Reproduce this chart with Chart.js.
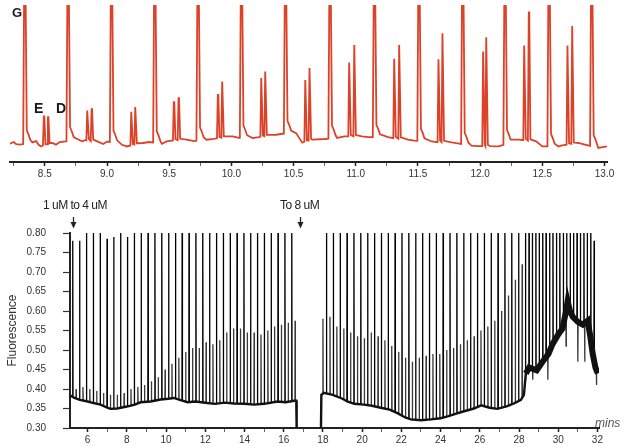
<!DOCTYPE html>
<html><head><meta charset="utf-8">
<script src="https://cdn.jsdelivr.net/npm/chart.js@4.4.0/dist/chart.umd.min.js"></script>
<style>
html,body{margin:0;padding:0;background:#fff;}
#wrap{position:relative;width:624px;height:447px;overflow:hidden;font-family:"Liberation Sans",Arial,sans-serif;}
#topC{position:absolute;left:0;top:0;}
#botC{position:absolute;left:0;top:190px;}
.lbl{position:absolute;white-space:nowrap;color:#1a1a1a;}
.pk{font-weight:bold;}
.ann{font-size:12px;line-height:12px;letter-spacing:-0.5px;color:#222;}
</style></head><body>
<div id="wrap">
<canvas id="topC" width="624" height="190"></canvas>
<canvas id="botC" width="624" height="261"></canvas>
<div class="lbl pk" style="left:12px;top:6px;font-size:13px;line-height:13px;">G</div>
<div class="lbl pk" style="left:34px;top:101px;font-size:14px;line-height:14px;">E</div>
<div class="lbl pk" style="left:56px;top:101px;font-size:14px;line-height:14px;">D</div>
<div class="lbl ann" style="left:43px;top:199px;">1 uM to 4 uM</div>
<div class="lbl ann" style="left:280px;top:199px;">To 8 uM</div>
<div class="lbl" style="left:595px;top:417px;font-size:12px;line-height:12px;font-style:italic;color:#555;">mins</div>
</div>
<script>
// ================= TOP PANEL (red trace, 8.2 – 13.0 min) =================
const topMainPeakTimes = [8.339, 8.687, 9.036, 9.384, 9.732, 10.081, 10.435, 10.793, 11.150, 11.508, 11.860, 12.200, 12.554, 12.897];
const topMainPeakHeights = [130,130,130,130,130,130,130,130,130,130,130,130,130,130]; // off scale
const topPairTimes = [8.494, 8.527, 8.843, 8.878, 9.197, 9.229, 9.539, 9.577, 9.893, 9.928, 10.242, 10.274, 10.596, 10.630, 10.949, 10.990, 11.311, 11.351, 11.667, 11.699, 12.026, 12.051, 12.356, 12.393, 12.704, 12.742];
const topPairHeights = [19.1, 18.6, 23.4, 24.4, 22.5, 25.9, 29.5, 32.4, 34.8, 44.4, 46.9, 51.7, 45.6, 54.3, 58.2, 71.0, 60.9, 71.0, 60.6, 79.5, 66.2, 76.6, 70.5, 94.7, 70.5, 84.8];
const topBaseTimes = [8.22, 8.25, 8.27, 8.30, 8.40, 8.43, 8.45, 8.47, 8.56, 8.59, 8.62, 8.67, 8.76, 8.80, 8.83, 8.94, 8.97, 9.00, 9.08, 9.12, 9.16, 9.29, 9.34, 9.44, 9.48, 9.52, 9.64, 9.70, 9.80, 9.86, 10.01, 10.06, 10.17, 10.22, 10.36, 10.41, 10.52, 10.57, 10.65, 10.75, 10.85, 10.91, 11.05, 11.10, 11.26, 11.30, 11.42, 11.47, 11.61, 11.65, 11.77, 11.82, 11.93, 11.98, 12.08, 12.15, 12.31, 12.45, 12.50, 12.63, 12.66, 12.79, 12.85, 12.95, 13.02];
const topBaseValues = [-0.7, 0.5, -1.0, -1.4, 0.2, 1.2, -1.5, -2.7, -0.2, -1.4, 0.5, 0.9, 2.7, 1.0, 2.0, 0.2, -1.0, 0.8, -0.2, -1.5, -2.7, -0.2, 0.5, -0.8, 0.9, 1.5, 2.2, 1.2, 2.2, 2.8, 4.6, 3.5, 3.4, 4.0, 5.8, 6.5, 7.0, 0.0, 2.2, 2.7, 3.5, 4.6, 4.6, 4.0, 4.1, 3.5, 2.2, 1.5, 0.9, 0.5, 0.2, -0.5, -2.2, -2.5, -2.5, -2.7, 2.2, 1.0, -2.7, -2.7, -2.0, -0.2, -1.5, -3.8, -2.7];
const topTickLabels = ['8.5','9.0','9.5','10.0','10.5','11.0','11.5','12.0','12.5','13.0'];

// ================= BOTTOM PANEL (fluorescence, 5 – 32 min) =================
const yTickLabels = ['0.30','0.35','0.40','0.45','0.50','0.55','0.60','0.65','0.70','0.75','0.80'];
const xTickLabels = ['6','8','10','12','14','16','18','20','22','24','26','28','30','32'];
const arrowTimes = [5.25, 16.84];

// segment 1 (1 uM -> 4 uM)
const seg1BaseTimes = [5.12, 5.3, 5.6, 6.0, 6.3, 6.66, 7.0, 7.17, 7.5, 8.0, 8.4, 8.7, 9.2, 9.72, 10.1, 10.4, 10.7, 11.09, 11.5, 12.1, 12.5, 13.0, 13.46, 14.0, 14.49, 15.0, 15.68, 16.1, 16.53, 16.64, 16.66];
const seg1BaseValues = [0.383, 0.378, 0.372, 0.368, 0.364, 0.36, 0.352, 0.349, 0.35, 0.355, 0.36, 0.366, 0.368, 0.373, 0.375, 0.377, 0.372, 0.366, 0.368, 0.364, 0.362, 0.365, 0.363, 0.362, 0.36, 0.362, 0.368, 0.366, 0.37, 0.37, 0.30];
const seg1TallTimes = [5.24, 5.59, 5.94, 6.29, 6.64, 6.99, 7.33, 7.68, 8.03, 8.38, 8.73, 9.08, 9.43, 9.78, 10.13, 10.48, 10.82, 11.17, 11.52, 11.87, 12.22, 12.57, 12.92, 13.27, 13.62, 13.97, 14.31, 14.66, 15.01, 15.36, 15.71, 16.06, 16.41];
const seg1TallHeights = [0.78, 0.78, 0.9, 0.9, 0.9, 0.785, 0.79, 0.9, 0.79, 0.9, 0.9, 0.9, 0.9, 0.9, 0.9, 0.9, 0.9, 0.9, 0.9, 0.9, 0.9, 0.9, 0.9, 0.9, 0.9, 0.9, 0.9, 0.9, 0.9, 0.9, 0.9, 0.9, 0.9];
const seg1SmallTimes = [5.41, 5.76, 6.11, 6.46, 6.81, 7.16, 7.51, 7.86, 8.21, 8.56, 8.90, 9.25, 9.60, 9.95, 10.30, 10.65, 11.00, 11.35, 11.69, 12.04, 12.39, 12.74, 13.09, 13.44, 13.79, 14.14, 14.49, 14.84, 15.19, 15.53, 15.88, 16.23, 16.58];
const seg1SmallHeights = [0.40, 0.405, 0.40, 0.395, 0.39, 0.385, 0.385, 0.39, 0.40, 0.405, 0.41, 0.42, 0.43, 0.45, 0.465, 0.48, 0.495, 0.505, 0.505, 0.52, 0.515, 0.525, 0.545, 0.555, 0.555, 0.545, 0.545, 0.54, 0.55, 0.56, 0.565, 0.57, 0.575];

// segment 2 (to 8 uM)
const seg2BaseTimes = [17.9, 17.92, 18.05, 18.5, 19.0, 19.24, 19.6, 20.1, 20.5, 20.95, 21.4, 21.8, 22.2, 22.48, 23.0, 23.5, 24.0, 24.36, 24.8, 25.2, 25.7, 26.07, 26.5, 26.9, 27.4, 27.77, 28.1, 28.25, 28.35, 28.52, 28.9, 29.2, 29.5, 29.71, 30.0, 30.22, 30.4, 30.48, 30.6, 30.74, 31.0, 31.25, 31.5, 31.62, 31.76, 31.9, 32.02];
const seg2BaseValues = [0.30, 0.385, 0.39, 0.385, 0.375, 0.368, 0.362, 0.36, 0.357, 0.352, 0.347, 0.338, 0.327, 0.322, 0.32, 0.322, 0.325, 0.33, 0.337, 0.343, 0.35, 0.358, 0.352, 0.349, 0.356, 0.364, 0.372, 0.385, 0.44, 0.455, 0.448, 0.47, 0.49, 0.515, 0.54, 0.555, 0.60, 0.625, 0.60, 0.585, 0.572, 0.565, 0.575, 0.54, 0.49, 0.455, 0.44];
const seg2TallTimes = [18.18, 18.53, 18.88, 19.23, 19.58, 19.93, 20.28, 20.63, 20.98, 21.33, 21.68, 22.03, 22.38, 22.73, 23.08, 23.43, 23.78, 24.13, 24.48, 24.83, 25.18, 25.53, 25.88, 26.23, 26.58, 26.93, 27.28, 27.63, 27.98, 28.33, 28.68, 29.03, 29.38, 29.73, 30.08, 30.43, 30.78, 31.13, 31.48, 31.83];
const seg2TallHeights = [0.9, 0.9, 0.9, 0.9, 0.9, 0.9, 0.9, 0.9, 0.9, 0.9, 0.9, 0.9, 0.9, 0.9, 0.9, 0.9, 0.9, 0.9, 0.9, 0.9, 0.9, 0.9, 0.9, 0.9, 0.9, 0.9, 0.9, 0.9, 0.9, 0.9, 0.9, 0.9, 0.9, 0.9, 0.9, 0.9, 0.9, 0.9, 0.9, 0.78];
const seg2SmallTimes = [18.00, 18.36, 18.71, 19.06, 19.41, 19.76, 20.11, 20.46, 20.81, 21.16, 21.51, 21.86, 22.21, 22.56, 22.91, 23.26, 23.61, 23.96, 24.31, 24.66, 25.01, 25.36, 25.71, 26.06, 26.41, 26.76, 27.11, 27.46, 27.81, 28.16, 28.51, 28.86, 29.21, 29.56, 29.91, 30.26, 30.61, 30.96, 31.31, 31.66];
const seg2SmallHeights = [0.58, 0.585, 0.56, 0.555, 0.545, 0.535, 0.53, 0.545, 0.535, 0.525, 0.51, 0.495, 0.48, 0.47, 0.48, 0.485, 0.49, 0.49, 0.50, 0.505, 0.515, 0.525, 0.535, 0.55, 0.56, 0.575, 0.60, 0.64, 0.68, 0.72, 0.9, 0.9, 0.9, 0.9, 0.9, 0.9, 0.9, 0.9, 0.9, 0.9];
const seg2DipTimes = [28.7, 29.47, 30.4, 31.0, 31.35, 31.95];
const seg2DipValues = [0.424, 0.424, 0.51, 0.47, 0.47, 0.41];

// ================= helpers =================
function baseAt(ts, vs, t) {
  if (t <= ts[0]) return vs[0];
  for (let i = 1; i < ts.length; i++) {
    if (t <= ts[i]) { const f = (t - ts[i-1]) / (ts[i] - ts[i-1]); return vs[i-1] + f * (vs[i] - vs[i-1]); }
  }
  return vs[vs.length - 1];
}
function buildTop() {
  const pts = [], windows = [];
  topMainPeakTimes.forEach((t, i) => {
    const b0 = baseAt(topBaseTimes, topBaseValues, t - 0.013);
    const b1 = baseAt(topBaseTimes, topBaseValues, t + 0.045);
    pts.push({x: t - 0.013, y: b0}, {x: t - 0.004, y: topMainPeakHeights[i]}, {x: t + 0.004, y: topMainPeakHeights[i]},
             {x: t + 0.016, y: b1 + 9}, {x: t + 0.03, y: b1 + 6}, {x: t + 0.045, y: b1 + 2});
    windows.push([t - 0.016, t + 0.05]);
  });
  topPairTimes.forEach((t, i) => {
    const b = baseAt(topBaseTimes, topBaseValues, t);
    pts.push({x: t - 0.009, y: b}, {x: t - 0.002, y: topPairHeights[i]}, {x: t + 0.002, y: topPairHeights[i]}, {x: t + 0.011, y: b + 1});
    windows.push([t - 0.012, t + 0.012]);
  });
  topBaseTimes.forEach((t, i) => {
    if (!windows.some(w => t >= w[0] && t <= w[1])) pts.push({x: t, y: topBaseValues[i]});
  });
  pts.sort((a, b) => a.x - b.x);
  return pts;
}
function baselinePoints() {
  const pts = [];
  seg1BaseTimes.forEach((t, i) => pts.push({x: t, y: seg1BaseValues[i]}));
  pts.push({x: 17.3, y: null});
  seg2BaseTimes.forEach((t, i) => pts.push({x: t, y: seg2BaseValues[i]}));
  return pts;
}
function spikePoints() {
  const items = [];
  const add = (times, hs, bt, bv) => times.forEach((t, i) => items.push({t, h: hs[i], bt, bv}));
  add(seg1TallTimes, seg1TallHeights, seg1BaseTimes, seg1BaseValues);
  add(seg1SmallTimes, seg1SmallHeights, seg1BaseTimes, seg1BaseValues);
  add(seg2TallTimes, seg2TallHeights, seg2BaseTimes, seg2BaseValues);
  add(seg2SmallTimes, seg2SmallHeights, seg2BaseTimes, seg2BaseValues);
  add(seg2DipTimes, seg2DipValues, seg2BaseTimes, seg2BaseValues);
  items.sort((a, b) => a.t - b.t);
  const pts = [];
  items.forEach(s => {
    pts.push({x: s.t - 0.008, y: baseAt(s.bt, s.bv, s.t - 0.008)});
    pts.push({x: s.t, y: s.h});
    pts.push({x: s.t + 0.014, y: baseAt(s.bt, s.bv, s.t + 0.014)});
    pts.push({x: s.t + 0.015, y: null});
  });
  return pts;
}
const FAM = '"Liberation Sans", Arial, sans-serif';
const isMult = (v, s) => Math.abs(v / s - Math.round(v / s)) < 1e-6;

new Chart(document.getElementById('topC'), {
  type: 'line',
  data: {datasets: [{data: buildTop(), borderColor: '#dc4228', borderWidth: 1.8, pointRadius: 0, tension: 0, fill: false}]},
  options: {
    responsive: false, animation: false, devicePixelRatio: 1,
    layout: {padding: {left: 10, right: 17, top: 5, bottom: 5}},
    plugins: {legend: {display: false}, tooltip: {enabled: false}},
    scales: {
      x: {
        type: 'linear', min: 8.22, max: 13.02,
        afterFit(s) { s.height = 23; },
        border: {display: true, color: '#222', width: 2},
        grid: {drawOnChartArea: false, drawTicks: true, tickLength: 4,
               tickColor: c => isMult(c.tick.value, 0.5) ? '#222' : '#666',
               tickWidth: c => isMult(c.tick.value, 0.5) ? 1.5 : 1},
        ticks: {stepSize: 0.25, includeBounds: false, autoSkip: false, maxRotation: 0, padding: 2,
                color: '#333', font: {family: FAM, size: 10},
                callback: v => { const lab = v.toFixed(1); return (isMult(v, 0.5) && topTickLabels.includes(lab)) ? lab : ''; }}
      },
      y: {display: false, min: -14, max: 100}
    }
  }
});

const arrowPlugin = {
  id: 'arrows',
  afterDraw(chart) {
    const ctx = chart.ctx, xs = chart.scales.x;
    ctx.save();
    ctx.strokeStyle = '#222'; ctx.fillStyle = '#222'; ctx.lineWidth = 1.3;
    arrowTimes.forEach(t => {
      const x = Math.round(xs.getPixelForValue(t)) + 0.5;
      ctx.beginPath(); ctx.moveTo(x, 27); ctx.lineTo(x, 33); ctx.stroke();
      ctx.beginPath(); ctx.moveTo(x - 3, 32); ctx.lineTo(x + 3, 32); ctx.lineTo(x, 38.5); ctx.closePath(); ctx.fill();
    });
    ctx.restore();
  }
};

new Chart(document.getElementById('botC'), {
  type: 'line',
  data: {datasets: [
    {data: baselinePoints(), borderColor: '#111', borderWidth: 2.2, pointRadius: 0, tension: 0, fill: false, spanGaps: false,
     segment: {borderWidth: c => c.p0.parsed.x >= 28.3 ? 6 : 2.4}},
    {data: spikePoints(), borderColor: '#111', borderWidth: 1.3, pointRadius: 0, tension: 0, fill: false, spanGaps: false,
     segment: {borderColor: c => Math.max(c.p0.parsed.y, c.p1.parsed.y) > 0.75 ? '#000' : '#3a3a3a'}}
  ]},
  options: {
    responsive: false, animation: false, devicePixelRatio: 1,
    layout: {padding: {left: 0, right: 25, top: 43, bottom: 0}},
    plugins: {legend: {display: false}, tooltip: {enabled: false}},
    scales: {
      x: {
        type: 'linear', min: 5.1, max: 32.08,
        afterFit(s) { s.height = 19; },
        border: {display: true, color: '#222', width: 2},
        grid: {drawOnChartArea: false, drawTicks: true, tickLength: 4,
               tickColor: c => isMult(c.tick.value, 2) ? '#222' : '#666',
               tickWidth: c => isMult(c.tick.value, 2) ? 1.5 : 1},
        ticks: {stepSize: 1, includeBounds: false, autoSkip: false, maxRotation: 0, padding: 2,
                color: '#333', font: {family: FAM, size: 10},
                callback: v => { const lab = String(Math.round(v)); return (isMult(v, 2) && xTickLabels.includes(lab)) ? lab : ''; }}
      },
      y: {
        type: 'linear', min: 0.30, max: 0.80,
        afterFit(s) { s.width = 70; },
        border: {display: true, color: '#222', width: 2},
        grid: {drawOnChartArea: false, drawTicks: true, tickLength: 7, tickColor: '#333', tickWidth: 1.2},
        ticks: {stepSize: 0.05, includeBounds: false, autoSkip: false, padding: 17, color: '#333', font: {family: FAM, size: 10},
                callback: v => { const lab = v.toFixed(2); return yTickLabels.includes(lab) ? lab : ''; }},
        title: {display: true, text: 'Fluorescence', color: '#333', padding: {top: 5, bottom: 0},
                font: {family: FAM, size: 12}}
      }
    }
  },
  plugins: [arrowPlugin]
});
</script>
</body></html>
